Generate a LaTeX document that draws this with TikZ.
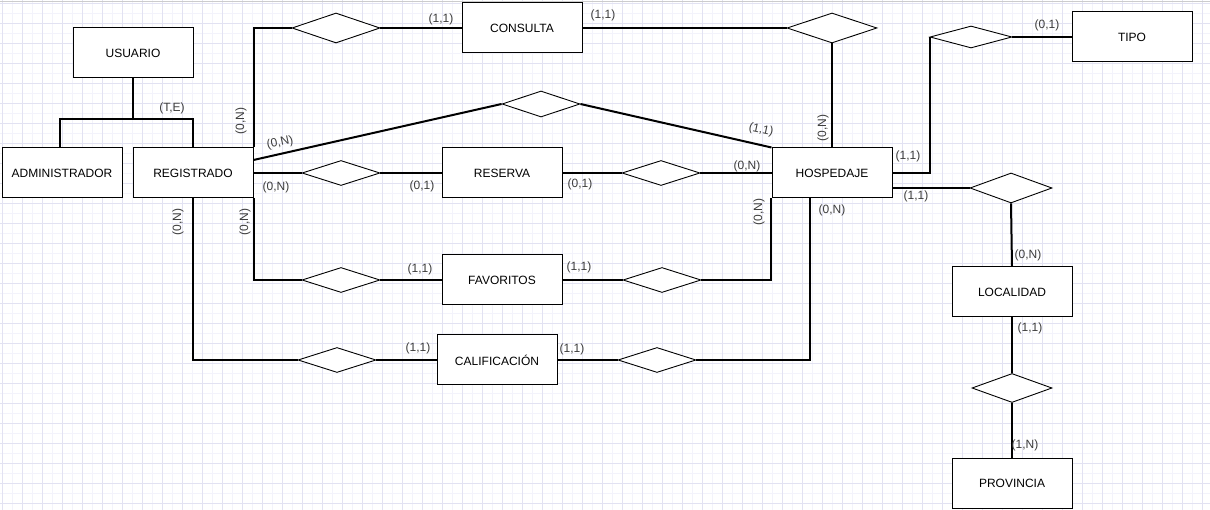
\documentclass[tikz,border=0pt]{standalone}
\usepackage{fontspec}
\setmainfont{Liberation Sans}
\usetikzlibrary{shapes.geometric,calc}
\definecolor{gridmaj}{RGB}{226,226,242}
\definecolor{gridmin}{RGB}{243,243,251}
\definecolor{lblcol}{RGB}{60,60,60}
\begin{document}
\begin{tikzpicture}[x=1pt,y=-1pt,
  ent/.style={draw, line width=1pt, fill=white, minimum width=120pt, minimum height=50pt, inner sep=0pt, font=\fontsize{12}{14}\selectfont},
  rel/.style={diamond, draw, line width=0.9pt, fill=white, minimum width=78pt, minimum height=25pt, inner sep=0pt, aspect=3},
  con/.style={line width=2pt},
  lbl/.style={font=\fontsize{12}{14}\selectfont, text=lblcol, inner sep=0pt}]
\useasboundingbox (0,0) rectangle (1210,510);
\fill[white] (0,0) rectangle (1210,510);
\foreach \x in {12,32,...,1210} \draw[gridmin, line width=0.6pt] (\x,0) -- (\x,510);
\foreach \y in {13,33,...,510} \draw[gridmin, line width=0.6pt] (0,\y) -- (1210,\y);
\foreach \x in {2,22,...,1210} \draw[gridmaj, line width=0.7pt] (\x,0) -- (\x,510);
\foreach \y in {3,23,...,510} \draw[gridmaj, line width=0.7pt] (0,\y) -- (1210,\y);
\draw[black!20, line width=0.8pt] (0,1.5) -- (1210,1.5);

% entities
\node[ent] (usu) at (133,53) {USUARIO};
\node[ent] (adm) at (62,173) {ADMINISTRADOR};
\node[ent] (reg) at (193,173) {REGISTRADO};
\node[ent] (con) at (522,28) {CONSULTA};
\node[ent] (res) at (502,173) {RESERVA};
\node[ent] (hos) at (832,173) {HOSPEDAJE};
\node[ent] (tipo) at (1132,37) {TIPO};
\node[ent] (fav) at (502,280) {FAVORITOS};
\node[ent] (cal) at (497,360) {CALIFICACIÓN};
\node[ent] (loc) at (1012,292) {LOCALIDAD};
\node[ent] (pro) at (1012,483) {PROVINCIA};

% relationships
\node[rel, minimum width=88pt, minimum height=30pt] (r1) at (336,28) {};
\node[rel, minimum width=90pt, minimum height=30pt] (r2) at (832,28) {};
\node[rel, minimum height=26pt] (r3) at (541,104) {};
\node[rel] (r4) at (341,173) {};
\node[rel] (r5) at (661,173) {};
\node[rel, minimum width=82pt, minimum height=22pt] (r6) at (971,37) {};
\node[rel, minimum width=82pt, minimum height=30pt] (r7) at (1011,188) {};
\node[rel] (r8) at (341,280) {};
\node[rel] (r9) at (662,280) {};
\node[rel] (r10) at (337,360) {};
\node[rel] (r11) at (657,360) {};
\node[rel, minimum width=80pt, minimum height=29pt] (r12) at (1012,388) {};

% generalization
\draw[con] (usu.south) -- ++(0,42);
\draw[con] ([xshift=-2pt]adm.north) -- ++(0,-28) -| (reg.north);

% connectors
\draw[con] (reg.north east) |- (r1.west);
\draw[con] (r1.east) -- (con.west);
\draw[con] (con.east) -- (r2.west);
\draw[con] (r2.south) -- (hos.north);
\draw[con] ([yshift=13pt]reg.east) -- (r3.west);
\draw[con] (r3.east) -- (hos.north west);
\draw[con] (reg.east) -- (r4.west);
\draw[con] (r4.east) -- (res.west);
\draw[con] (res.east) -- (r5.west);
\draw[con] (r5.east) -- (hos.west);
\draw[con] (reg.south east) |- (r8.west);
\draw[con] (r8.east) -- (fav.west);
\draw[con] (fav.east) -- (r9.west);
\draw[con] (r9.east) -| ([xshift=-1pt]hos.south west);
\draw[con] (reg.south) |- (r10.west);
\draw[con] (r10.east) -- (cal.west);
\draw[con] (cal.east) -- (r11.west);
\draw[con] (r11.east) -| ([xshift=-22pt]hos.south);
\draw[con] (hos.east) -| (r6.west);
\draw[con] (r6.east) -- (tipo.west);
\draw[con] ([yshift=-15pt]hos.east) -- (r7.west);
\draw[con] (r7.south) -- (loc.north);
\draw[con] (loc.south) -- (r12.north);
\draw[con] (r12.south) -- (pro.north);

% labels
\node[lbl] (l1) at (172,108) {(T,E)};
\node[lbl, rotate=90] (l2) at (241,121) {(0,N)};
\node[lbl, rotate=12] (l3) at (280,143) {(0,N)};
\node[lbl] (l4) at (276,187) {(0,N)};
\node[lbl] (l5) at (441,19) {(1,1)};
\node[lbl] (l6) at (603,15) {(1,1)};
\node[lbl, rotate=-12] (l7) at (761,130) {(1,1)};
\node[lbl, rotate=90] (l8) at (823,128) {(0,N)};
\node[lbl] (l9) at (422,186) {(0,1)};
\node[lbl] (l10) at (580,184) {(0,1)};
\node[lbl] (l11) at (747,166) {(0,N)};
\node[lbl] (l12) at (908,156) {(1,1)};
\node[lbl] (l13) at (916,196) {(1,1)};
\node[lbl] (l14) at (1047,25) {(0,1)};
\node[lbl, rotate=90] (l15) at (178,222) {(0,N)};
\node[lbl, rotate=90] (l16) at (245,222) {(0,N)};
\node[lbl] (l17) at (420,269) {(1,1)};
\node[lbl] (l18) at (579,267) {(1,1)};
\node[lbl] (l19) at (418,348) {(1,1)};
\node[lbl] (l20) at (572,349) {(1,1)};
\node[lbl, rotate=90] (l21) at (759,212) {(0,N)};
\node[lbl] (l22) at (832,210) {(0,N)};
\node[lbl] (l23) at (1028,255) {(0,N)};
\node[lbl] (l24) at (1030,328) {(1,1)};
\node[lbl] (l25) at (1025,445) {(1,N)};
\end{tikzpicture}
\end{document}
